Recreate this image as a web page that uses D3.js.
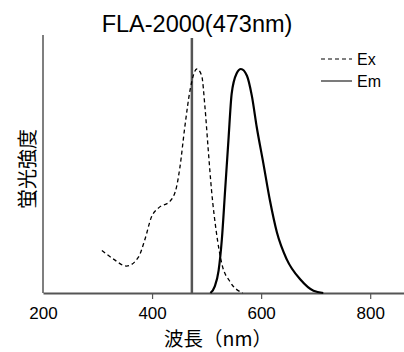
<!DOCTYPE html>
<html><head><meta charset="utf-8">
<script src="https://cdn.jsdelivr.net/npm/d3@7"></script>
<style>body{margin:0;background:#fff}svg{display:block}</style>
</head><body>
<svg id="c" width="404" height="352"></svg>
<script>
const title = "FLA-2000(473nm)";
const xTicks = [200, 400, 600, 800];
const laserNm = 473;
const exNm = [308, 330, 353, 375, 387, 399, 412, 433, 445, 451, 460, 470, 482, 491, 497, 503, 509, 518, 528, 543, 566];
const exVal = [19, 15, 12, 16, 24, 34, 38, 41, 47.5, 56, 74, 91, 100, 97, 83, 64, 46, 27, 13, 5, 0];
const emNm = [507, 515, 522, 528, 534, 540, 546, 555, 563, 574, 583, 592, 604, 616, 629, 647, 672, 696, 714];
const emVal = [0, 3, 10, 24, 46, 68, 89, 98, 100, 97, 88, 74, 58, 41.5, 27, 15, 6, 1, 0];
const seriesNames = ["Ex", "Em"];

const svg = d3.select("#c");
const mLeft = 43, mRight = 404, mTop = 35, mBottom = 293;
const x = d3.scaleLinear().domain([200, 862]).range([mLeft, mRight]);
const y = d3.scaleLinear().domain([0, 100]).range([mBottom, 69]);
const latin = "'Liberation Sans', Arial, sans-serif";
const cjk = "'Noto Sans CJK JP', sans-serif";
const axisColor = "#555";

// axes
const xa = svg.append("g").attr("transform", `translate(0,${mBottom})`)
  .call(d3.axisBottom(x).tickValues(xTicks).tickSize(6).tickSizeOuter(0).tickPadding(8));
xa.select(".domain").attr("stroke", axisColor).attr("stroke-width", 2);
xa.selectAll(".tick line").attr("stroke", axisColor).attr("stroke-width", 1.2)
  .filter(d => d === 200).remove();
xa.selectAll(".tick text").attr("font-family", latin).attr("font-size", 17).attr("fill", "#000");

svg.append("line").attr("x1", mLeft).attr("x2", mLeft).attr("y1", mTop).attr("y2", mBottom)
  .attr("stroke", axisColor).attr("stroke-width", 1.5);

// laser line
svg.append("line").attr("x1", x(laserNm)).attr("x2", x(laserNm)).attr("y1", 38).attr("y2", mBottom)
  .attr("stroke", "#555").attr("stroke-width", 2.5);

const line = d3.line().x(d => x(d[0])).y(d => y(d[1])).curve(d3.curveMonotoneX);
svg.append("path").datum(exNm.map((n, i) => [n, exVal[i]])).attr("d", line)
  .attr("fill", "none").attr("stroke", "#000").attr("stroke-width", 1.3).attr("stroke-dasharray", "4,3");
svg.append("path").datum(emNm.map((n, i) => [n, emVal[i]])).attr("d", line)
  .attr("fill", "none").attr("stroke", "#000").attr("stroke-width", 2.2);

// title
svg.append("text").attr("x", 197).attr("y", 32).attr("text-anchor", "middle")
  .attr("font-family", latin).attr("font-size", 23.5).text(title);

// legend
const lg = svg.append("g");
[0, 1].forEach(i => {
  const ly = 59 + i * 22;
  lg.append("line").attr("x1", 321).attr("x2", 352).attr("y1", ly).attr("y2", ly)
    .attr("stroke", i === 0 ? "#000" : "#333").attr("stroke-width", i === 0 ? 1 : 1.3)
    .attr("stroke-dasharray", i === 0 ? "4,3" : null);
  lg.append("text").attr("x", 357).attr("y", ly + 6).attr("font-family", latin)
    .attr("font-size", 16).text(seriesNames[i]);
});

// axis labels
svg.append("text").attr("transform", "translate(35,169) rotate(-90)").attr("text-anchor", "middle")
  .attr("font-family", cjk).attr("font-size", 20).text("蛍光強度");
svg.append("text").attr("x", 218).attr("y", 346).attr("text-anchor", "middle")
  .attr("font-family", cjk).attr("font-size", 19.5).text("波長（nm）");
</script>
</body></html>
